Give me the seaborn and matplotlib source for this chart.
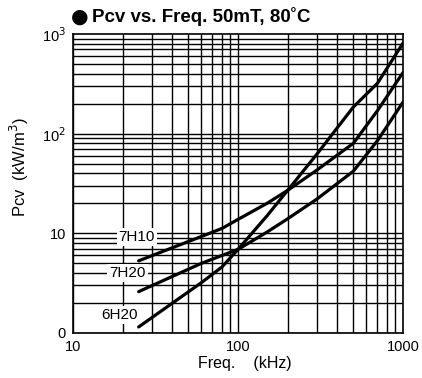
import numpy as np
import pandas as pd
import matplotlib
matplotlib.use("Agg")
import matplotlib.pyplot as plt
import seaborn as sns

sns.set_style("white")
plt.rcParams['font.family'] = ['Liberation Sans', 'DejaVu Sans']
plt.rcParams['text.color'] = 'black'
plt.rcParams['axes.labelcolor'] = 'black'

# frequency points (kHz)
freq = [25, 60, 80, 100, 150, 200, 300, 500, 700, 1000]

# Pcv (kW/m^3) per material
pcv_7h10 = [5.3, 9.3, 11.2, 13.8, 20.0, 27.0, 43.0, 80.0, 170.0, 410.0]
pcv_7h20 = [2.6, 5.0, 6.0, 6.9, 10.3, 14.0, 22.0, 42.0, 85.0, 207.0]
pcv_6h20 = [1.15, 3.2, 4.6, 6.9, 15.0, 27.0, 62.0, 185.0, 320.0, 810.0]

materials = ["7H10", "7H20", "6H20"]

x_ticks = [10, 100, 1000]
x_ticklabels = ["10", "100", "1000"]
y_ticks = [1, 10, 100, 1000]
y_ticklabels = ["0", "10", "10$^2$", "10$^3$"]

df = pd.DataFrame({
    "freq": freq * 3,
    "pcv": pcv_7h10 + pcv_7h20 + pcv_6h20,
    "mat": sum([[m] * len(freq) for m in materials], []),
})

fig = plt.figure(figsize=(4.22, 3.78), dpi=100)
ax = fig.add_axes([73/422, 45/378, 330/422, 299/378])

# grid lines: every 1..9 x decade
for d in [10, 100]:
    for k in range(1, 10):
        ax.axvline(d * k, color='black', linewidth=1.0, zorder=1)
for d in [1, 10, 100]:
    for k in range(1, 10):
        ax.axhline(d * k, color='black', linewidth=1.0, zorder=1)

sns.lineplot(data=df, x="freq", y="pcv", units="mat", estimator=None,
             color='black', linewidth=2.3, ax=ax, zorder=3, legend=False)

ax.set_xscale('log')
ax.set_yscale('log')
ax.set_xlim(10, 1000)
ax.set_ylim(1, 1000)
ax.set_xticks(x_ticks)
ax.set_xticklabels(x_ticklabels)
ax.set_yticks(y_ticks)
ax.set_yticklabels(y_ticklabels)
ax.minorticks_off()
ax.tick_params(length=0, labelsize=10.5, pad=5, colors='black')

for s in ax.spines.values():
    s.set_color('black')
    s.set_linewidth(1.2)

# curve labels sitting on white boxes
label_pos = {"7H10": (24.4, 9.2), "7H20": (21.4, 4.0), "6H20": (19.1, 1.52)}
for m in materials:
    lx, ly = label_pos[m]
    ax.text(lx, ly, m, fontsize=11, ha='center', va='center', zorder=4,
            bbox=dict(facecolor='white', edgecolor='none', pad=1.5))

ax.set_xlabel("Freq.    (kHz)", fontsize=11.5)
ax.set_ylabel("Pcv  (kW/m$^3$)", fontsize=12)
ax.xaxis.set_label_coords(0.52, -0.078)
ax.yaxis.set_label_coords(-0.127, 0.555)

fig.text(71/422, 1 - 17/378, "●", fontsize=14.5, family=['DejaVu Sans'],
         ha='left', va='center')
fig.text(92/422, 1 - 16/378, "Pcv vs. Freq. 50mT, 80˚C", fontsize=13.5,
         fontweight='bold', ha='left', va='center')

fig.savefig("out.png", dpi=100)
